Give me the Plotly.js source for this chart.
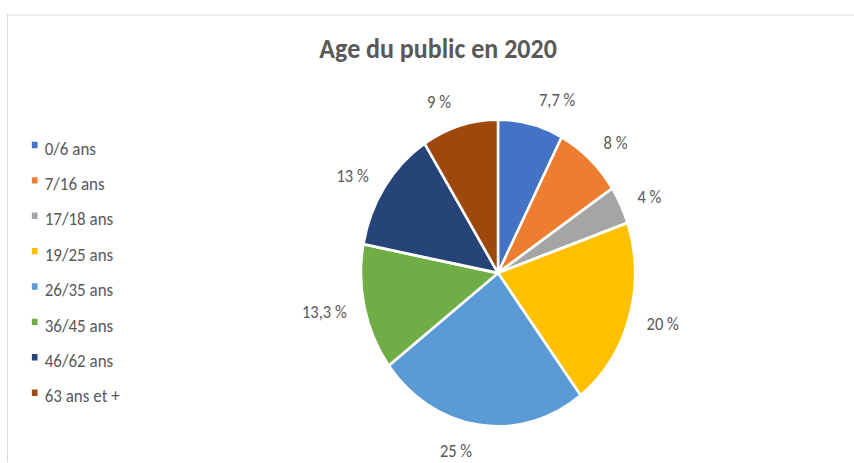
<!DOCTYPE html>
<html><head><meta charset="utf-8">
<script src="https://cdn.plot.ly/plotly-3.0.1.min.js"></script>
<style>
html,body{margin:0;padding:0;background:#fff;overflow:hidden;width:854px;height:463px;}
#wrap{width:854px;height:413px;transform:scaleY(1.12);transform-origin:0 0;}
#chart{width:854px;height:413px;}
#chart .legend .legendpoints path{transform-box:fill-box;transform-origin:center;transform:translate(30px,0) scale(0.6);}
</style></head><body>
<div id="wrap"><div id="chart"></div></div>
<script>
const categories = ["0/6 ans","7/16 ans","17/18 ans","19/25 ans","26/35 ans","36/45 ans","46/62 ans","63 ans et +"];
const percentages = [7.7, 8, 4, 20, 25, 13.3, 13, 9];
const sliceColors = ["#4472C4","#ED7D31","#A5A5A5","#FFC000","#5B9BD5","#70AD47","#264478","#9E480E"];
const chartTitle = "Age du public en 2020";

const FONT = "Carlito, Lato, 'Open Sans', sans-serif";
const TXT = "#595959";
const legendLabels = categories.map(c => '<span style="font-size:17px">' + c + '</span>');

const W = 854, H = 413;
const cx = 498, cy = 243.75, r = 137, rLab = 150;

const pieMain = {
  type: 'pie', labels: legendLabels, values: percentages, sort: false,
  direction: 'clockwise', rotation: 0,
  marker: {colors: sliceColors, line: {color: '#ffffff', width: 2.5}},
  textinfo: 'none', hoverinfo: 'skip',
  domain: {x: [(cx - r) / W, (cx + r) / W], y: [1 - (cy + r) / H, 1 - (cy - r) / H]},
  showlegend: true
};
const pieLabels = {
  type: 'pie', labels: legendLabels, values: percentages, sort: false,
  direction: 'clockwise', rotation: 0,
  marker: {colors: categories.map(() => 'rgba(0,0,0,0)'), line: {width: 0}},
  textposition: 'outside', texttemplate: '%{value:.1~f} %',
  outsidetextfont: {family: FONT, size: 16.5, color: TXT},
  hoverinfo: 'skip',
  domain: {x: [(cx - rLab) / W, (cx + rLab) / W], y: [1 - (cy + rLab) / H, 1 - (cy - rLab) / H]},
  showlegend: false
};

const layout = {
  width: W, height: H,
  margin: {l: 0, r: 0, t: 0, b: 0},
  paper_bgcolor: '#ffffff',
  separators: ', ',
  font: {family: FONT, color: TXT},
  title: {text: chartTitle, x: 0.513, xanchor: 'center', y: 1 - 43 / H, yanchor: 'middle',
          font: {family: FONT, size: 26, color: TXT, weight: 'bold'}},
  legend: {x: 0.0055, xanchor: 'left', y: 0.737, yanchor: 'top',
           font: {family: FONT, size: 22, color: TXT}, bgcolor: 'rgba(0,0,0,0)', traceorder: 'normal'},
  shapes: [{type: 'rect', xref: 'paper', yref: 'paper', x0: 7.5 / W, x1: 1.2, y0: -0.2, y1: 1 - 13.4 / H,
            line: {color: '#D9D9D9', width: 1}, fillcolor: 'rgba(0,0,0,0)', layer: 'below'}]
};

Plotly.newPlot('chart', [pieMain, pieLabels], layout, {displayModeBar: false, staticPlot: true});
</script></body></html>
